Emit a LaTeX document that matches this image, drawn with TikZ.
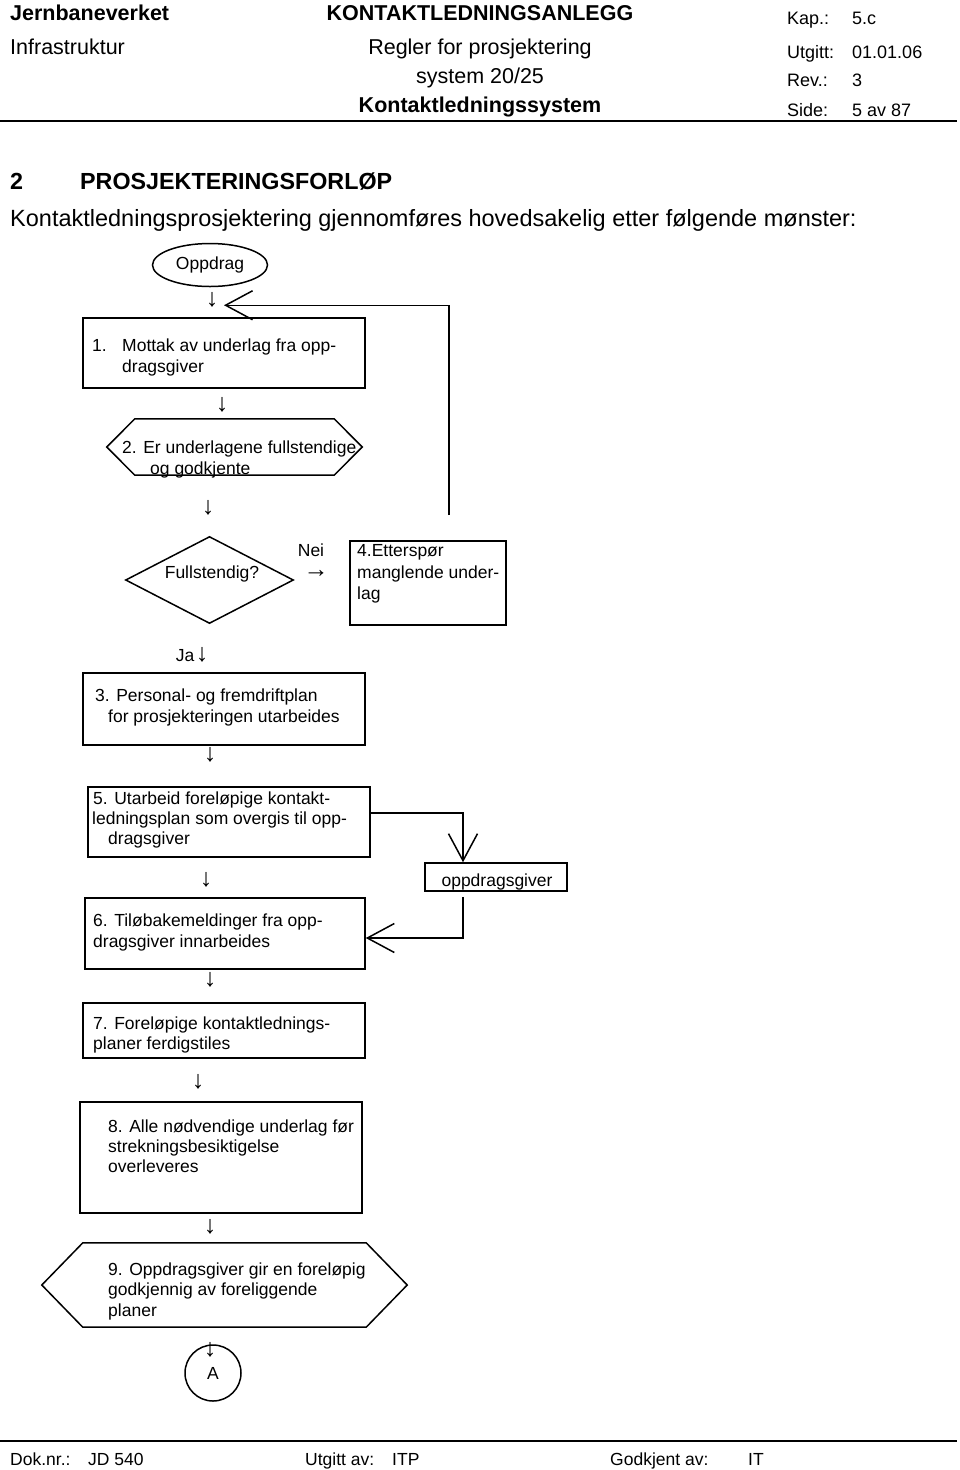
\documentclass[tikz,border=0pt]{standalone}
\usepackage{fontspec}
\setmainfont{Liberation Sans}
\usetikzlibrary{arrows.meta,shapes.geometric}
\newcommand\bxf{\fontsize{17.5}{20}\selectfont}
\newcommand\hdf{\fontsize{21.5}{25}\selectfont}
\newcommand\hrf{\fontsize{18}{21}\selectfont}
\newcommand\ttf{\fontsize{23.3}{27}\selectfont}
\newcommand\pgf{\fontsize{23.5}{27}\selectfont}
\newcommand\arf{\fontsize{25}{28}\selectfont}
\begin{document}
\begin{tikzpicture}[x=1pt,y=-1pt,
  lw/.style={anchor=base west,inner sep=0pt,font=\bxf},
  lc/.style={anchor=base,inner sep=0pt,font=\bxf},
  hl/.style={anchor=base west,inner sep=0pt,font=\hdf},
  hc/.style={anchor=base,inner sep=0pt,font=\hdf},
  hr/.style={anchor=base west,inner sep=0pt,font=\hrf},
  dn/.style={inner sep=0pt,font=\arf},
  box/.style={draw,line width=1.5pt,inner sep=0pt},
  ghost/.style={inner sep=0pt},
  outline/.style={line width=1.5pt,line join=miter},
  flow/.style={line width=1.5pt},
  barb/.style={-{Straight Barb[length=27pt,width=29pt,line width=1.5pt]}}
]
\useasboundingbox[fill=white] (0,0) rectangle (960,1470);

% ---------- header ----------
\node[hl,font=\hdf\bfseries] (hJ) at (10,20) {Jernbaneverket};
\node[hc,font=\hdf\bfseries] (hK) at (480,20) {KONTAKTLEDNINGSANLEGG};
\node[hl] (hI) at (10,54) {Infrastruktur};
\node[hc] (hR) at (480,54) {Regler for prosjektering};
\node[hc] (hS) at (480,83) {system 20/25};
\node[hc,font=\hdf\bfseries] (hKs) at (480,112) {Kontaktledningssystem};
\node[hr] (k1) at (787,24.5) {Kap.:};
\node[hr] (k2) at (852,24.5) {5.c};
\node[hr] (u1) at (787,58.5) {Utgitt:};
\node[hr] (u2) at (852,58.5) {01.01.06};
\node[hr] (r1) at (787,86.5) {Rev.:};
\node[hr] (r2) at (852,86.5) {3};
\node[hr] (s1) at (787,116.5) {Side:};
\node[hr] (s2) at (852,116.5) {5 av 87};
\draw[line width=2.5pt] (0,121) -- (957,121);

% ---------- title ----------
\node[anchor=base west,inner sep=0pt,font=\ttf\bfseries] (t1) at (10,189) {2};
\node[anchor=base west,inner sep=0pt,font=\ttf\bfseries] (t2) at (80,189) {PROSJEKTERINGSFORLØP};
\node[anchor=base west,inner sep=0pt,font=\pgf] (para) at (10,226) {Kontaktledningsprosjektering gjennomføres hovedsakelig etter følgende mønster:};

% ---------- flow ----------
\node[draw,ellipse,line width=1.5pt,minimum width=115pt,minimum height=43pt,inner sep=0pt,font=\bxf] (opp) at (210,265) {Oppdrag};
\node[dn] (a0) at (212,300) {↓};

\node[box,minimum width=282pt,minimum height=70pt] (b1) at (224,353) {};
\node[lw] at (92,351) {1.};
\node[lw] at (122,351) {Mottak av underlag fra opp-};
\node[lw] at (122,372) {dragsgiver};
\node[dn] (a1) at (222,405) {↓};

\node[ghost,minimum width=255pt,minimum height=56pt] (b2) at (234.5,447) {};
\draw[outline] (b2.west) -- ([xshift=28pt]b2.north west) -- ([xshift=-28pt]b2.north east)
  -- (b2.east) -- ([xshift=-28pt]b2.south east) -- ([xshift=28pt]b2.south west) -- cycle;
\node[lw] at (122,453) {2. Er underlagene fullstendige};
\node[lw] at (150,474) {og godkjente};
\node[dn] (a2) at (208,508) {↓};

\node[ghost,minimum width=167pt,minimum height=86pt] (dia) at (209.5,580) {};
\draw[outline] (dia.west) -- (dia.north) -- (dia.east) -- (dia.south) -- cycle;
\node[lc] at (212,578) {Fullstendig?};
\node[lc] (nei) at (311,556) {Nei};
\node[dn] (an) at (316,574) {→};

\node[box,minimum width=156pt,minimum height=84pt] (b4) at (428,583) {};
\node[lw] at (357,556) {4.Etterspør};
\node[lw] at (357,578) {manglende under-};
\node[lw] at (357,599) {lag};

\coordinate (loopstart) at (449,515);
\draw[flow,barb] (loopstart) |- ([yshift=12pt]b1.north);

\node[lc] (ja) at (185,661) {Ja};
\node[dn] (aja) at (202,655) {↓};

\node[box,minimum width=282pt,minimum height=72pt] (b3) at (224,709) {};
\node[lw] at (95,701) {3. Personal- og fremdriftplan};
\node[lw] at (108,722) {for prosjekteringen utarbeides};
\node[dn] (a3) at (210,755) {↓};

\node[box,minimum width=282pt,minimum height=70pt] (b5) at (229,822) {};
\node[lw] at (93,804) {5. Utarbeid foreløpige kontakt-};
\node[lw] at (92,824) {ledningsplan som overgis til opp-};
\node[lw] at (108,844) {dragsgiver};
\node[dn] (a5) at (206,880) {↓};

\node[box,minimum width=142pt,minimum height=28pt] (og) at (496,877) {};
\node[lc] at (497,886) {oppdragsgiver};
\draw[flow,barb] ([yshift=9pt]b5.east) -| ([xshift=-33pt]og.north);

\node[box,minimum width=280pt,minimum height=71pt] (b6) at (225,933.5) {};
\node[lw] at (93,926) {6. Tiløbakemeldinger fra opp-};
\node[lw] at (93,947) {dragsgiver innarbeides};
\draw[flow,barb] ([xshift=-33pt,yshift=-5pt]og.south) |- ([yshift=-4.5pt]b6.east);
\node[dn] (a6) at (210,980) {↓};

\node[box,minimum width=282pt,minimum height=55pt] (b7) at (224,1030.5) {};
\node[lw] at (93,1029) {7. Foreløpige kontaktlednings-};
\node[lw] at (93,1049) {planer ferdigstiles};
\node[dn] (a7) at (198,1082) {↓};

\node[box,minimum width=282pt,minimum height=111pt] (b8) at (221,1157.5) {};
\node[lw] at (108,1132) {8. Alle nødvendige underlag før};
\node[lw] at (108,1152) {strekningsbesiktigelse};
\node[lw] at (108,1172) {overleveres};
\node[dn] (a8) at (210,1227) {↓};

\node[ghost,minimum width=365pt,minimum height=84pt] (b9) at (224.5,1285) {};
\draw[outline] (b9.west) -- ([xshift=41pt]b9.north west) -- ([xshift=-41pt]b9.north east)
  -- (b9.east) -- ([xshift=-41pt]b9.south east) -- ([xshift=41pt]b9.south west) -- cycle;
\node[lw] at (108,1275) {9. Oppdragsgiver gir en foreløpig};
\node[lw] at (108,1295) {godkjennig av foreliggende};
\node[lw] at (108,1316) {planer};

\node[draw,circle,line width=1.5pt,minimum size=56pt,inner sep=0pt,font=\bxf] (cA) at (213,1373) {A};
\node[dn] (a9) at (210,1350) {↓};

% ---------- footer ----------
\draw[line width=2.5pt] (0,1441) -- (957,1441);
\node[hr,font=\bxf] (f1) at (10,1465) {Dok.nr.:};
\node[hr,font=\bxf] (f2) at (88,1465) {JD 540};
\node[hr,font=\bxf] (f3) at (305,1465) {Utgitt av:};
\node[hr,font=\bxf] (f4) at (392,1465) {ITP};
\node[hr,font=\bxf] (f5) at (610,1465) {Godkjent av:};
\node[hr,font=\bxf] (f6) at (748,1465) {IT};
\end{tikzpicture}
\end{document}
